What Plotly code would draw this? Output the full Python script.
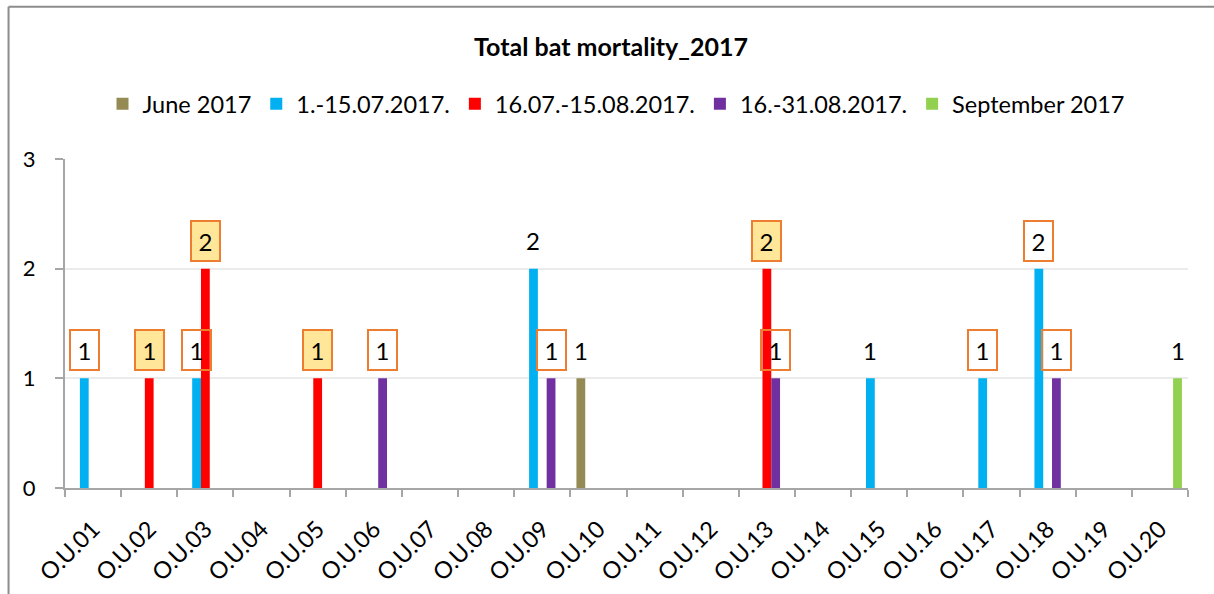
import plotly.graph_objects as go

# Observation units and per-period bat carcass counts (None = no find)
categories = ["O.U.01", "O.U.02", "O.U.03", "O.U.04", "O.U.05", "O.U.06", "O.U.07",
              "O.U.08", "O.U.09", "O.U.10", "O.U.11", "O.U.12", "O.U.13", "O.U.14",
              "O.U.15", "O.U.16", "O.U.17", "O.U.18", "O.U.19", "O.U.20"]

series_names = ["June 2017", "1.-15.07.2017.", "16.07.-15.08.2017.",
                "16.-31.08.2017.", "September 2017"]

june_2017 = [None, None, None, None, None, None, None, None, None, 1,
             None, None, None, None, None, None, None, None, None, None]
jul_01_15 = [1, None, 1, None, None, None, None, None, 2, None,
             None, None, None, None, 1, None, 1, 2, None, None]
jul16_aug15 = [None, 1, 2, None, 1, None, None, None, None, None,
               None, None, 2, None, None, None, None, None, None, None]
aug_16_31 = [None, None, None, None, None, 1, None, None, 1, None,
             None, None, 1, None, None, None, None, 1, None, None]
september_2017 = [None, None, None, None, None, None, None, None, None, None,
                  None, None, None, None, None, None, None, None, None, 1]

# Label style per value: "fill" = shaded callout, "box" = outlined callout, "plain" = text only
june_style = ["plain"] * 20
jul_01_15_style = ["box", None, "box", None, None, None, None, None, "plain", None,
                   None, None, None, None, "plain", None, "box", "box", None, None]
jul16_aug15_style = ["fill"] * 20
aug_16_31_style = ["box"] * 20
september_style = ["plain"] * 20

colors = ["#948A54", "#00B0F0", "#FF0000", "#7030A0", "#92D050"]
all_values = [june_2017, jul_01_15, jul16_aug15, aug_16_31, september_2017]
all_styles = [june_style, jul_01_15_style, jul16_aug15_style, aug_16_31_style, september_style]

FONT = "Lato"
BARGAP = 0.217
n_series = len(all_values)
bar_w = (1 - BARGAP) / n_series

fig = go.Figure()
for name, vals, col in zip(series_names, all_values, colors):
    fig.add_trace(go.Bar(x=categories, y=vals, name=name, marker_color=col,
                         marker_line_width=0))

# Value callouts above each bar
annotations = []
for s, (vals, styles) in enumerate(zip(all_values, all_styles)):
    for i, v in enumerate(vals):
        if v is None:
            continue
        style = styles[i] or "plain"
        ann = dict(x=i + (s - (n_series - 1) / 2) * bar_w, y=v, xref="x", yref="y",
                   text=str(v), showarrow=False, xanchor="center", yanchor="middle",
                   yshift=28, font=dict(family=FONT, size=24, color="#000000"))
        if style in ("box", "fill"):
            ann.update(width=27, height=38, borderwidth=2, borderpad=0,
                       bordercolor="#ED7D31",
                       bgcolor="#FFE699" if style == "fill" else "rgba(0,0,0,0)")
        annotations.append(ann)

# Chart-area frame (left and top edges)
L, R, T, B = 64.5, 25.5, 159, 106.3
W, H = 1214, 594
pw, ph = W - L - R, H - T - B
def px_x(p):
    return (p - L) / pw
def px_y(p):
    return (H - B - p) / ph

shapes = [
    dict(type="line", xref="paper", yref="paper", x0=px_x(8), x1=px_x(8),
         y0=px_y(7), y1=px_y(600), line=dict(color="#8C8C8C", width=2)),
    dict(type="line", xref="paper", yref="paper", x0=px_x(8), x1=px_x(1220),
         y0=px_y(7), y1=px_y(7), line=dict(color="#8C8C8C", width=2)),
]

fig.update_layout(
    width=W, height=H,
    margin=dict(l=L, r=R, t=T, b=B, autoexpand=False),
    paper_bgcolor="#FFFFFF", plot_bgcolor="#FFFFFF",
    barmode="group", bargap=BARGAP, bargroupgap=0,
    title=dict(text="Total bat mortality_2017", xref="container", yref="container",
               x=611 / W, y=1 - 47 / H, xanchor="center", yanchor="middle",
               font=dict(family=FONT, size=25, color="#000000", weight="bold")),
    legend=dict(orientation="h", xref="paper", yref="paper",
                x=px_x(616), y=px_y(104), xanchor="center", yanchor="middle",
                font=dict(family=FONT, size=23.5, color="#000000"),
                itemwidth=30, traceorder="normal", bgcolor="rgba(0,0,0,0)"),
    xaxis=dict(type="category", tickson="boundaries", ticks="outside", ticklen=7,
               tickwidth=2, tickcolor="#A6A6A6", showline=True, linecolor="#A6A6A6",
               linewidth=2, showgrid=False, tickangle=-45, ticklabelstandoff=16,
               tickfont=dict(family=FONT, size=23.5, color="#000000"),
               range=[-0.5, len(categories) - 0.5], automargin=False),
    yaxis=dict(range=[0, 3], dtick=1, tick0=0, ticks="outside", ticklen=8, tickwidth=2,
               tickcolor="#A6A6A6", showline=True, linecolor="#A6A6A6", linewidth=2,
               showgrid=True, gridcolor="#EBEBEB", gridwidth=2, zeroline=False,
               ticklabelstandoff=15,
               tickfont=dict(family=FONT, size=22, color="#000000"), automargin=False),
    annotations=annotations,
    shapes=shapes,
)

fig.write_html("out.html")
